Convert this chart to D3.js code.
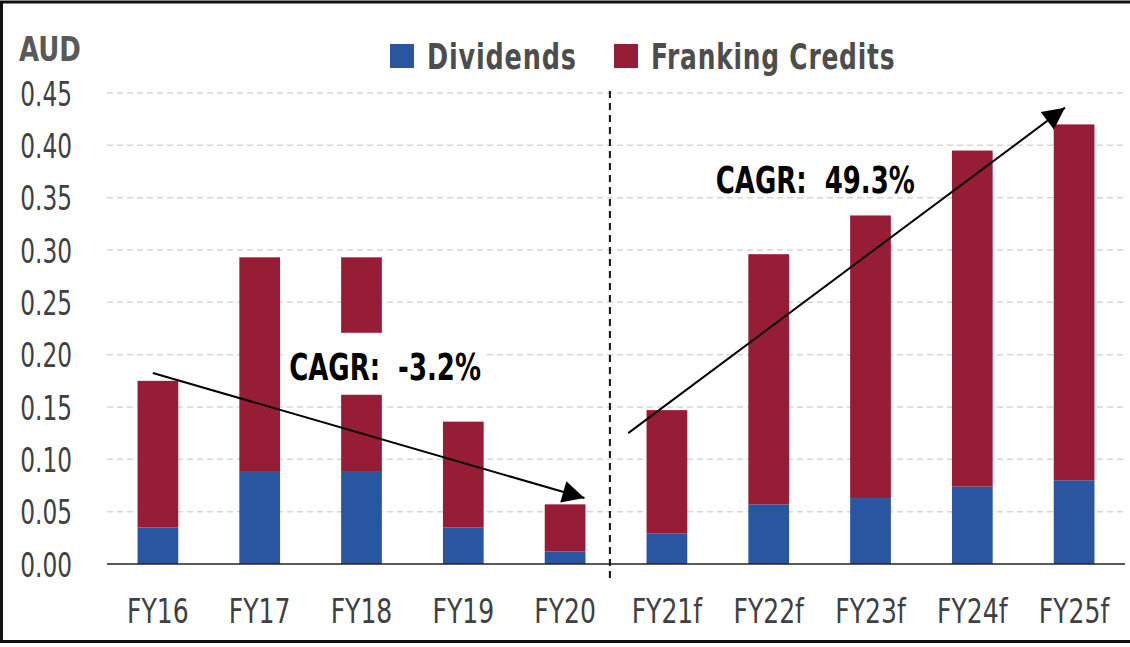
<!DOCTYPE html>
<html><head><meta charset="utf-8">
<script src="https://cdn.jsdelivr.net/npm/d3@7"></script>
<style>
html,body{margin:0;padding:0;background:#fff;}
svg{display:block;}
text{font-family:"Liberation Sans Narrow","DejaVu Sans Condensed","Arial Narrow",sans-serif;}
</style></head><body>
<svg id="chart" width="1130" height="647"></svg>
<script>
const categories = ["FY16","FY17","FY18","FY19","FY20","FY21f","FY22f","FY23f","FY24f","FY25f"];
const dividends = [0.035,0.088,0.088,0.035,0.012,0.029,0.057,0.063,0.074,0.080];
const frankingTotals = [0.175,0.293,0.293,0.136,0.057,0.147,0.296,0.333,0.395,0.420];
const frankingCredits = frankingTotals.map((t,i)=>+(t-dividends[i]).toFixed(3));
const seriesNames = ["Dividends","Franking Credits"];
const seriesColors = ["#2a55a0","#961d35"];
const yTicks = [0,0.05,0.10,0.15,0.20,0.25,0.30,0.35,0.40,0.45];
const yLabel = "AUD";
const cagrLabels = ["CAGR:  -3.2%","CAGR:  49.3%"];

const svg = d3.select("#chart");
const W = 1130, H = 647;
const x = d3.scaleBand().domain(categories).range([107,1125]).paddingInner(0.6).paddingOuter(0.3);
const y = d3.scaleLinear().domain([0,0.45]).range([564,93]);
const step = x.step();
const xc = i => x(categories[0]) + x.bandwidth()/2 + i*step;

function compress(sel, f){
  sel.each(function(){
    const n = this; const L = n.getComputedTextLength();
    d3.select(n).attr("textLength", L*f).attr("lengthAdjust","spacingAndGlyphs");
  });
}

// border
svg.append("rect").attr("x",1.5).attr("y",2).attr("width",W+5).attr("height",639.5)
  .attr("fill","none").attr("stroke","#111").attr("stroke-width",3);

// gridlines
svg.append("g").selectAll("line").data(yTicks.filter(d=>d>0)).join("line")
  .attr("x1",107).attr("x2",1125).attr("y1",d=>y(d)).attr("y2",d=>y(d))
  .attr("stroke","#d6d6d6").attr("stroke-width",1.5).attr("stroke-dasharray","6,4");

// y axis labels
const yAxis = d3.axisLeft(y).tickValues(yTicks).tickFormat(d3.format(".2f")).tickSize(0).tickPadding(0);
const gy = svg.append("g").attr("transform","translate(72,0)").call(yAxis);
gy.select(".domain").remove();
gy.selectAll("text").attr("font-size",34).attr("fill","#404040").attr("dy","0.36em")
  .attr("font-family",'"Liberation Sans Narrow","DejaVu Sans Condensed",sans-serif');
compress(gy.selectAll("text"), 0.76);

const aud = svg.append("text").attr("x",19).attr("y",61).text(yLabel)
  .attr("font-size",34).attr("font-weight","bold").attr("fill","#595959");
compress(aud, 0.85);

// stacked bars
const rows = categories.map((c,i)=>({cat:c, Dividends:dividends[i], "Franking Credits":frankingCredits[i]}));
const stack = d3.stack().keys(seriesNames)(rows);
svg.append("g").selectAll("g").data(stack).join("g")
  .attr("fill",(d,i)=>seriesColors[i])
  .selectAll("rect").data(d=>d).join("rect")
  .attr("x",d=>x(d.data.cat)).attr("width",x.bandwidth())
  .attr("y",d=>y(d[1])).attr("height",d=>y(d[0])-y(d[1]));

// baseline
svg.append("line").attr("x1",107).attr("x2",1125).attr("y1",y(0)).attr("y2",y(0))
  .attr("stroke","#222").attr("stroke-width",1.5);

// x axis labels
const xAxis = d3.axisBottom(x).tickSize(0).tickPadding(0);
const gx = svg.append("g").attr("transform","translate(0,623)").call(xAxis);
gx.select(".domain").remove();
gx.selectAll("text").attr("font-size",34).attr("fill","#404040").attr("dy",0)
  .attr("font-family",'"Liberation Sans Narrow","DejaVu Sans Condensed",sans-serif');
compress(gx.selectAll("text"), 0.82);

// divider
svg.append("line").attr("x1",xc(4.44)).attr("x2",xc(4.44)).attr("y1",y(0.452)).attr("y2",580)
  .attr("stroke","#111").attr("stroke-width",2).attr("stroke-dasharray","7,5");

// arrows
const defs = svg.append("defs");
defs.append("marker").attr("id","ah").attr("viewBox","0 0 10 10").attr("refX",10).attr("refY",5)
  .attr("markerWidth",26).attr("markerHeight",22).attr("markerUnits","userSpaceOnUse").attr("orient","auto")
  .append("path").attr("d","M0,0L10,5L0,10Z").attr("fill","#000");
const arrows = [
  {from:[-0.05,0.1825], to:[4.19,0.063]},
  {from:[4.62,0.125], to:[8.91,0.436]}
];
svg.append("g").selectAll("line").data(arrows).join("line")
  .attr("x1",d=>xc(d.from[0])).attr("y1",d=>y(d.from[1]))
  .attr("x2",d=>xc(d.to[0])).attr("y2",d=>y(d.to[1]))
  .attr("stroke","#000").attr("stroke-width",2).attr("marker-end","url(#ah)");

// CAGR labels
const labelPos = [{i:1.29, v:0.176, box:true},{i:5.48, v:0.3545, box:false}];
labelPos.forEach((p,k)=>{
  const g = svg.append("g");
  const t = g.append("text").attr("x",xc(p.i)).attr("y",y(p.v)).text(cagrLabels[k])
    .attr("font-size",37).attr("font-weight","bold").attr("fill","#000").style("white-space","pre");
  compress(t, 0.78);
  if(p.box){
    const bb = t.node().getBBox();
    g.insert("rect","text").attr("x",bb.x-2).attr("width",bb.width+6)
      .attr("y",y(p.v)-47).attr("height",62).attr("fill","#fff");
  }
});

// legend
const lg = svg.append("g");
const legendX = [390,614];
const legendF = [0.81,0.79];
seriesNames.forEach((s,i)=>{
  lg.append("rect").attr("x",legendX[i]).attr("y",44).attr("width",24).attr("height",24).attr("fill",seriesColors[i]);
  const t = lg.append("text").attr("x",legendX[i]+37).attr("y",69).text(s)
    .attr("font-size",35).attr("font-weight","bold").attr("fill","#4d4d4d").attr("letter-spacing",1);
  compress(t, legendF[i]);
});
</script>
</body></html>
